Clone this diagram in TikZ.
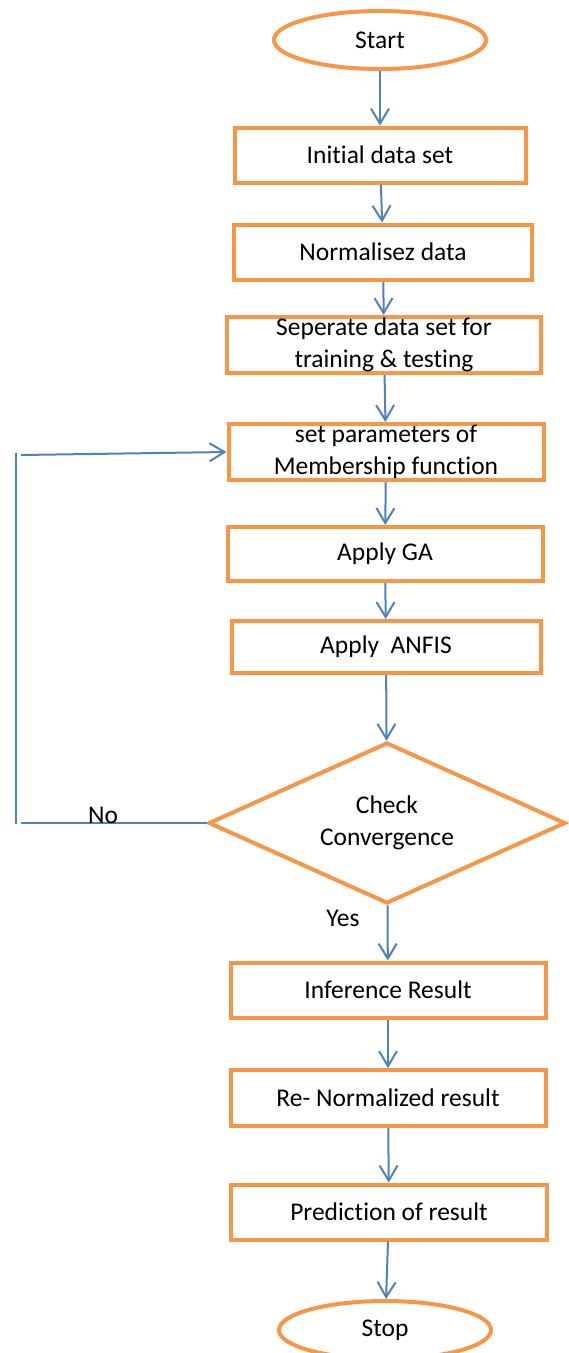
\documentclass[tikz,border=0pt]{standalone}
\usepackage{fontspec}
\setmainfont{Carlito}[Ligatures=NoCommon]
\usetikzlibrary{shapes.geometric,arrows.meta}

\definecolor{boxorange}{HTML}{F79646}
\definecolor{flowblue}{HTML}{4F81BD}

\begin{document}
\begin{tikzpicture} [x=1pt,y=-1pt,
			>={Straight Barb[length=15pt,width=18pt]},
			every node/.style={font=\fontsize{25.5}{31.5}\selectfont,inner sep=0pt,align=center},
			process box/.style={rectangle,draw=boxorange,line width=4pt,minimum height=55pt},
			terminal state/.style={ellipse,draw=boxorange,line width=4pt,minimum width=212pt,minimum height=58pt},
			decision state/.style={diamond,aspect=2.2,draw=boxorange,line width=4pt,minimum width=357pt,minimum height=161pt},
			flow/.style={draw=flowblue,line width=2pt},
			into/.style={flow,<-}
			]

		\useasboundingbox (0,0) rectangle (569,1353);

		% loop back from the decision
		\coordinate (no end) at (21,823);
		\coordinate (loop bottom) at (16,824);
		\coordinate (loop top) at (16,453);
		\coordinate (back start) at (21,455);

		\node [terminal state] (start) at (380,40) {Start};
		\node [process box, minimum width=291pt] (init) at (380,155) {Initial data set}
			edge [into] (start);
		\node [process box, minimum width=298pt] (norm) at (383,252) {Normalisez data}
			edge [into] (init);
		\node [process box, minimum width=314pt, minimum height=56pt] (split) at (384,345) {Seperate data set for\\training \& testing}
			edge [into] (norm);
		\node [process box, minimum width=315pt, minimum height=56pt] (params) at (386,452) {set parameters of\\Membership function}
			edge [into] (split);
		\node [process box, minimum width=315pt, minimum height=54pt] (ga) at (385,554) {Apply GA}
			edge [into] (params);
		\node [process box, minimum width=309pt, minimum height=52pt] (anfis) at (386,647) {Apply~ ANFIS}
			edge [into] (ga);
		\node [decision state] (check) at (387,823) {Check\\Convergence}
			edge [into] (anfis)
			edge [flow] (no end);
		\node [process box, minimum width=315pt] (infer) at (388,990) {Inference Result}
			edge [into] (check);
		\node [process box, minimum width=315pt, minimum height=56pt] (renorm) at (388,1098) {Re- Normalized result}
			edge [into] (infer);
		\node [process box, minimum width=316pt] (predict) at (389,1212) {Prediction of result}
			edge [into] (renorm);
		\node [terminal state] (stop) at (385,1330) {Stop}
			edge [into] (predict);

		\draw [flow] (loop top) -- (loop bottom);
		\draw [flow,->] (back start) -- (params.west);

		\node [anchor=base] (no label) at (103,823) {No};
		\node [anchor=base] (yes label) at (343,926) {Yes};

		\end{tikzpicture}
\end{document}
